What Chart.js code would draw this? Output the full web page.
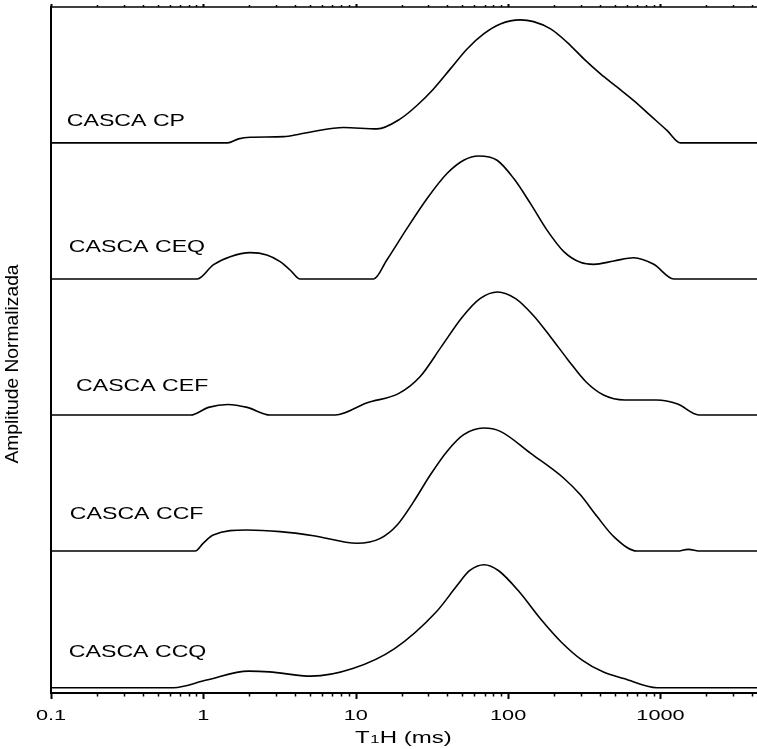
<!DOCTYPE html>
<html>
<head>
<meta charset="utf-8">
<script src="https://cdn.jsdelivr.net/npm/chart.js@4.4.1/dist/chart.umd.min.js"></script>
<style>
  html, body { margin: 0; padding: 0; background: #fff; }
  #wrap { width: 757px; height: 749px; }
</style>
</head>
<body>
<div id="wrap"><canvas id="t1Chart"></canvas></div>
<script>
// T1H distributions (ms) with normalized amplitude, one curve per sample
const samples = ['CASCA CP', 'CASCA CEQ', 'CASCA CEF', 'CASCA CCF', 'CASCA CCQ'];
const offsets = [4.472, 3.366, 2.26, 1.154, 0.043];

const t1CP  = [0.1, 1.44, 1.7, 2.03, 3.36, 4.32, 7.15, 8.32, 13.8, 19.6, 25.2, 32.4, 41.8, 53.8, 69.1, 88.9, 120, 147, 190, 244, 314, 404, 520, 668, 860, 1107, 1353, 4300];
const ampCP = [0, 0, 0.033, 0.046, 0.051, 0.073, 0.119, 0.125, 0.114, 0.195, 0.304, 0.439, 0.602, 0.764, 0.886, 0.967, 1.0, 0.986, 0.927, 0.818, 0.683, 0.561, 0.453, 0.344, 0.222, 0.100, 0, 0];

const t1CEQ  = [0.1, 0.914, 1.16, 1.50, 2.03, 2.61, 3.19, 3.71, 4.32, 13.1, 16.0, 21.7, 29.4, 39.7, 51.1, 64.1, 84.6, 109, 140, 180, 232, 298, 365, 494, 668, 904, 1223, 4300];
const ampCEQ = [0, 0, 0.114, 0.181, 0.214, 0.195, 0.141, 0.073, 0, 0, 0.154, 0.411, 0.654, 0.857, 0.965, 1.0, 0.965, 0.816, 0.614, 0.397, 0.222, 0.135, 0.119, 0.146, 0.173, 0.119, 0, 0];

const t1CEF  = [0.1, 0.826, 1.08, 1.45, 1.94, 2.74, 7.35, 11.9, 19.2, 26.4, 36.4, 50.1, 65.4, 85.4, 112, 146, 190, 248, 324, 423, 583, 941, 1297, 1785, 4300];
const ampCEF = [0, 0, 0.062, 0.086, 0.062, 0, 0, 0.10, 0.176, 0.311, 0.554, 0.797, 0.946, 1.0, 0.946, 0.811, 0.635, 0.446, 0.27, 0.162, 0.122, 0.122, 0.089, 0, 0];

const t1CCF  = [0.1, 0.883, 1.0, 1.16, 1.93, 3.19, 5.28, 10.2, 14.5, 18.7, 24.0, 30.9, 39.7, 51.1, 69.1, 88.9, 140, 232, 298, 384, 494, 703, 1288, 1520, 1831, 4300];
const ampCCF = [0, 0, 0.065, 0.13, 0.171, 0.158, 0.125, 0.063, 0.103, 0.212, 0.402, 0.62, 0.81, 0.946, 1.0, 0.973, 0.796, 0.592, 0.457, 0.28, 0.117, 0, 0, 0.014, 0, 0];

const t1CCQ  = [0.1, 0.636, 1.05, 1.98, 2.71, 5.09, 9.56, 18.0, 33.7, 46.2, 55.8, 69.6, 86.7, 119, 163, 223, 306, 419, 574, 951, 4300];
const ampCCQ = [0, 0, 0.062, 0.135, 0.129, 0.094, 0.156, 0.318, 0.615, 0.83, 0.951, 1.0, 0.951, 0.776, 0.561, 0.372, 0.224, 0.129, 0.075, 0, 0];

const xTicks = [0.1, 1, 10, 100, 1000];
const xTickLabels = ['0.1', '1', '10', '100', '1000'];

// where each sample name sits (T1 value, stacked amplitude)
const labelT1 = [0.127, 0.131, 0.146, 0.133, 0.131];
const labelY  = [4.61, 3.589, 2.455, 1.412, 0.293];

const series = [[t1CP, ampCP], [t1CEQ, ampCEQ], [t1CEF, ampCEF], [t1CCF, ampCCF], [t1CCQ, ampCCQ]];

const FONT = '"Liberation Sans", Arial, sans-serif';

// text drawn wider than tall, like the exported figure
function wideText(ctx, text, x, y, size, sx, align) {
  ctx.save();
  ctx.font = size + 'px ' + FONT;
  const w = ctx.measureText(text).width * sx;
  const left = align === 'center' ? x - w / 2 : x;
  ctx.translate(left, y);
  ctx.scale(sx, 1);
  ctx.textAlign = 'left';
  ctx.textBaseline = 'alphabetic';
  ctx.fillStyle = '#000';
  ctx.fillText(text, 0, 0);
  ctx.restore();
  return w;
}

const decor = {
  id: 'decor',
  afterDraw(chart) {
    const ctx = chart.ctx;
    const area = chart.chartArea;
    const xs = chart.scales.x, ys = chart.scales.y;

    ctx.save();
    ctx.strokeStyle = '#000';
    // top frame
    ctx.lineWidth = 1.5;
    ctx.beginPath();
    ctx.moveTo(area.left, area.top);
    ctx.lineTo(area.right, area.top);
    ctx.stroke();

    // log ticks, bottom (outward) and top (outward)
    xs.ticks.forEach(t => {
      const v = t.value;
      const sig = v / Math.pow(10, Math.floor(Math.log10(v) + 1e-9));
      if (Math.abs(sig - Math.round(sig)) > 1e-6) return;
      const px = Math.round(xs.getPixelForValue(v)) + 0.5;
      if (px > area.right) return;
      const major = Math.round(sig) === 1;
      ctx.lineWidth = major ? 2 : 1.5;
      ctx.beginPath();
      ctx.moveTo(px, area.bottom);
      ctx.lineTo(px, area.bottom + (major ? 6 : 3.5));
      ctx.moveTo(px, area.top);
      ctx.lineTo(px, area.top - (major ? 3 : 2));
      ctx.stroke();
    });
    ctx.restore();

    // tick labels
    xTicks.forEach((v, i) => {
      wideText(ctx, xTickLabels[i], xs.getPixelForValue(v), 719.5, 15.5, 1.4, 'center');
    });

    // x title: T with subscript 1
    const tx = 355, ty = 742.5;
    let cx = tx;
    cx += wideText(ctx, 'T', cx, ty, 16, 1.5, 'left');
    cx += wideText(ctx, '1', cx + 0.5, ty, 11, 1.5, 'left') + 1;
    wideText(ctx, 'H (ms)', cx, ty, 16, 1.5, 'left');

    // y title
    ctx.save();
    ctx.translate(18, (area.top + area.bottom) / 2 + 14);
    ctx.rotate(-Math.PI / 2);
    ctx.scale(1.07, 1);
    ctx.font = '18px ' + FONT;
    ctx.fillStyle = '#000';
    ctx.textAlign = 'center';
    ctx.textBaseline = 'alphabetic';
    ctx.fillText('Amplitude Normalizada', 0, 0);
    ctx.restore();

    // sample names
    samples.forEach((name, i) => {
      wideText(ctx, name, xs.getPixelForValue(labelT1[i]), ys.getPixelForValue(labelY[i]), 17, 1.36, 'left');
    });
  }
};

const datasets = series.map(([t1, amp], i) => ({
  label: samples[i],
  data: t1.map((x, j) => ({ x: x, y: amp[j] + offsets[i] })),
  borderColor: '#000',
  borderWidth: 1.6,
  pointRadius: 0,
  fill: false,
  cubicInterpolationMode: 'monotone'
}));

new Chart(document.getElementById('t1Chart'), {
  type: 'line',
  data: { datasets: datasets },
  options: {
    responsive: true,
    maintainAspectRatio: false,
    animation: false,
    devicePixelRatio: 1,
    layout: { padding: { top: 7, right: 0, left: 0, bottom: 0 } },
    plugins: { legend: { display: false }, tooltip: { enabled: false } },
    scales: {
      x: {
        type: 'logarithmic',
        min: 0.1,
        max: 4300,
        grid: { display: false },
        border: { display: true, color: '#000', width: 2 },
        ticks: { display: false },
        afterFit: s => { s.height = 56; }
      },
      y: {
        type: 'linear',
        min: 0,
        max: 5.577,
        grid: { display: false },
        border: { display: true, color: '#000', width: 2 },
        ticks: { display: false },
        afterFit: s => { s.width = 51; }
      }
    }
  },
  plugins: [decor]
});
</script>
</body>
</html>
